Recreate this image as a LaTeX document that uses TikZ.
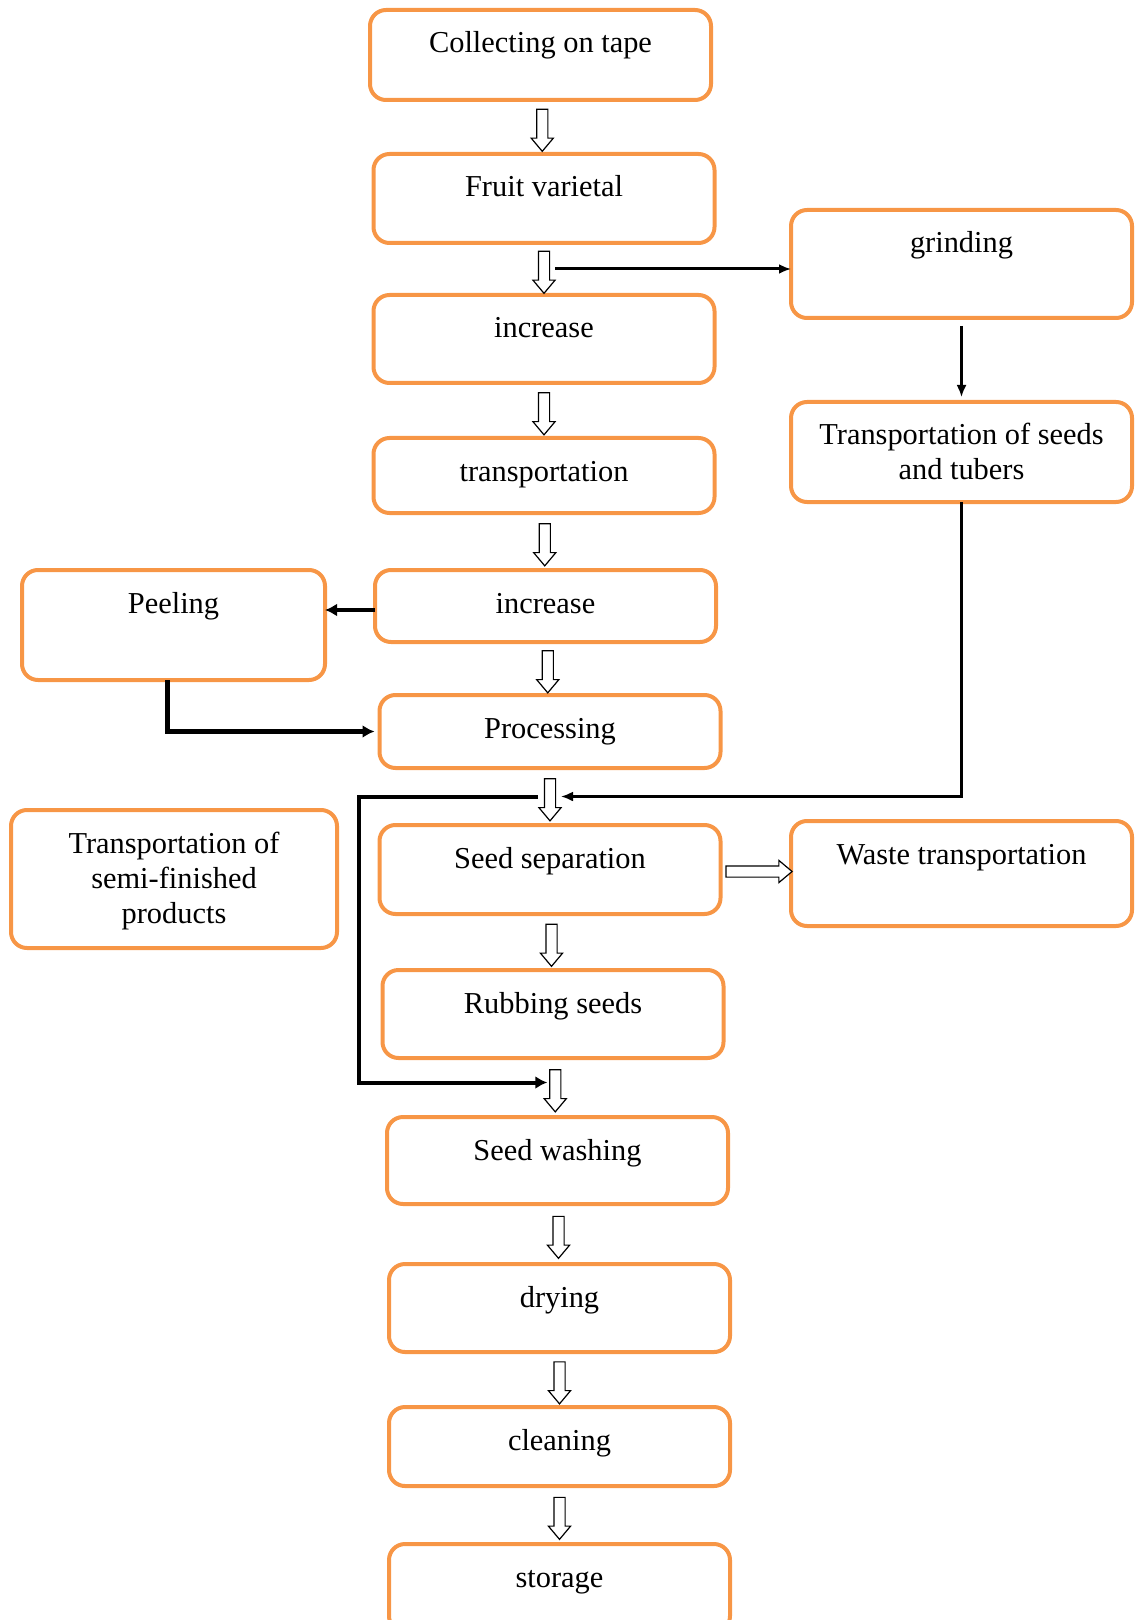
\documentclass[tikz,border=0pt]{standalone}
\usepackage{fontspec}
\setmainfont{Liberation Serif}
\usepackage{tikz}
\usetikzlibrary{arrows.meta,positioning,shapes.arrows,calc}
\definecolor{boxorange}{RGB}{247,150,70}
\tikzset{
  stepbox/.style = {rectangle, rounded corners=8pt, draw=boxorange, line width=2pt, inner sep=0pt, outer sep=0pt, minimum width=170.5pt, text height=21.5pt, anchor=north, align=center, font=\fontsize{15.2}{17.5}\selectfont},
  holarrow/.style = {single arrow, draw, line width=0.6pt, fill=white, inner sep=0pt, inner ysep=2.5pt, single arrow head extend=2.75pt, single arrow tip angle=80, minimum height=21pt},
  holdown/.style = {holarrow, shape border rotate=270, inner ysep=0pt, inner xsep=2.5pt},
  blkarrow/.style = {-{Latex[length=6pt, width=5pt]}, line width=1.1pt},
  thkarrow/.style = {-{Latex[length=6pt, width=6.5pt]}, line width=2.2pt},
}
\begin{document}
\begin{tikzpicture}[x=0.5pt, y=-0.5pt]
\useasboundingbox (0,0) rectangle (1134,1620);
\node[stepbox, text depth=23.5pt] (collect) at (540.5,10) {Collecting on tape};
\node[stepbox, text depth=23pt, below=27pt of collect, xshift=1.75pt] (fruit) {Fruit varietal};
\node[stepbox, text depth=22.5pt, below=26pt of fruit] (incr1) {increase};
\node[stepbox, text depth=16pt, below=27.5pt of incr1] (transp) {transportation};
\node[stepbox, text depth=14.5pt, below=28.5pt of transp, xshift=0.75pt] (incr2) {increase};
\node[stepbox, text depth=15pt, below=26.5pt of incr2, xshift=2.25pt] (proc) {Processing};
\node[stepbox, text depth=23pt, below=28.5pt of proc] (sepa) {Seed separation};
\node[stepbox, text depth=22.5pt, below=28pt of sepa, xshift=1.5pt] (rub) {Rubbing seeds};
\node[stepbox, text depth=22pt, below=29.5pt of rub, xshift=2.25pt] (wash) {Seed washing};
\node[stepbox, text depth=22.5pt, below=30pt of wash, xshift=1pt] (dry) {drying};
\node[stepbox, text depth=18pt, below=27.5pt of dry] (clean) {cleaning};
\node[stepbox, text depth=22.5pt, below=29pt of clean] (store) {storage};
\node[stepbox, text depth=32.5pt] (grind) at (961.5,210) {grinding};
\node[stepbox, text height=39pt, text depth=11pt, below=42pt of grind] (tseeds) {Transportation of seeds\\and tubers};
\node[stepbox, text depth=31pt] (waste) at (961.5,821) {Waste transportation};
\node[stepbox, text depth=33.5pt, minimum width=151.5pt] (peel) at (173.5,570) {Peeling};
\node[stepbox, text height=56.5pt, text depth=12.5pt, minimum width=163pt] (semi) at (174,810) {Transportation of\\semi-finished\\products};
\path (collect.south) -- node[holdown] (h1) {} (fruit.north);
\path (fruit.south) -- node[holdown] (h2) {} (incr1.north);
\path (incr1.south) -- node[holdown] (h3) {} (transp.north);
\path (transp.south) -- node[holdown] (h4) {} (incr2.north);
\path (incr2.south) -- node[holdown] (h5) {} (proc.north);
\path (proc.south) -- node[holdown] (h6) {} (sepa.north);
\path (sepa.south) -- node[holdown] (h7) {} (rub.north);
\path (rub.south) -- node[holdown] (h8) {} (wash.north);
\path (wash.south) -- node[holdown] (h9) {} (dry.north);
\path (dry.south) -- node[holdown] (h10) {} (clean.north);
\path (clean.south) -- node[holdown] (h11) {} (store.north);
\path (sepa.east) -- node[holarrow, minimum height=33pt] (h12) {} (waste.west);
\draw[blkarrow, line width=1.5pt] ($(h2.center)+(5.5pt,0)$) -- (h2.center -| grind.west);
\draw[blkarrow, shorten <=4pt, shorten >=2.5pt] (grind) -- (tseeds);
\draw[blkarrow] (tseeds.south) |- ($(h6.center)+(5.5pt,0)$);
\draw[thkarrow] ([yshift=-2pt]incr2.west) -- ([yshift=-2pt]incr2.west -| peel.east);
\draw[thkarrow, shorten >=2.5pt] ([xshift=-3pt]peel.south) |- (proc.west);
\draw[thkarrow, line width=2pt] ($(h6.center)+(-6pt,0)$) -| ([xshift=-10.5pt]sepa.west) |- ($(h8.center)+(-4pt,2.5pt)$);
\end{tikzpicture}
\end{document}
